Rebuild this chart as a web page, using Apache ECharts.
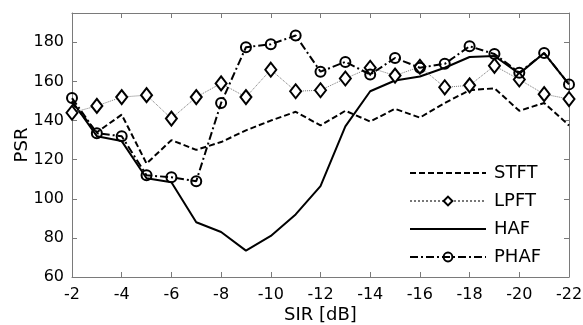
<!DOCTYPE html>
<html>
<head>
<meta charset="utf-8">
<script src="https://cdn.jsdelivr.net/npm/echarts@6/dist/echarts.min.js"></script>
<style>
  html, body { margin: 0; padding: 0; background: #fff; }
  #chart { width: 583px; height: 325px; }
</style>
</head>
<body>
<div id="chart"></div>
<script>
const sir = [-2, -3, -4, -5, -6, -7, -8, -9, -10, -11, -12, -13, -14, -15, -16, -17, -18, -19, -20, -21, -22];
const stft = [149, 134, 143, 118, 130, 125, 129, 135, 140, 144.5, 137.5, 145, 139.5, 146, 141.5, 149, 155.5, 156.5, 145, 149, 137.5];
const lpft = [144, 147.5, 152, 153, 141, 152, 159, 152, 166, 155, 155.5, 161.5, 167, 163, 167.5, 157, 158, 168, 161, 153.5, 151];
const haf = [150, 132, 129.5, 110.5, 108.5, 88, 83, 73.5, 81, 92, 106.5, 137, 155, 160.5, 162.5, 167, 172.5, 173, 164, 174.5, 158.5];
const phaf = [151.5, 133.5, 132, 112, 111, 109, 149, 177.5, 179, 183.5, 165, 170, 163.5, 172, 167, 169, 178, 174, 164.5, 174.5, 158.5];
const xTicks = [-2, -4, -6, -8, -10, -12, -14, -16, -18, -20, -22];
const yTicks = [60, 80, 100, 120, 140, 160, 180];

const FONT = "DejaVu Sans";
const FRAME = "#7a7a7a";

const pairs = (ys) => sir.map((x, i) => [x, ys[i]]);

const chart = echarts.init(document.getElementById("chart"), null, { renderer: "canvas" });

function frameAxis(extra) {
  return Object.assign({
    type: "value",
    axisLine: { show: true, onZero: false, lineStyle: { color: FRAME, width: 1 } },
    axisTick: { show: true, inside: true, length: 5, lineStyle: { color: FRAME } },
    splitLine: { show: false },
    axisLabel: { show: false }
  }, extra);
}

chart.setOption({
  animation: false,
  backgroundColor: "#fff",
  grid: { left: 72, right: 14, top: 13, bottom: 48, containLabel: false, outerBoundsMode: "none" },
  xAxis: [
    frameAxis({
      position: "bottom",
      min: -22, max: -2, interval: 2, inverse: true,
      name: "SIR [dB]", nameLocation: "middle", nameGap: 29, nameMoveOverlap: false,
      nameTextStyle: { fontFamily: FONT, fontSize: 18, color: "#000" },
      axisLabel: {
        show: true, margin: 10, fontFamily: FONT, fontSize: 16, color: "#000",
        formatter: (v) => (xTicks.includes(v) ? String(v) : "")
      }
    }),
    frameAxis({ position: "top", min: -22, max: -2, interval: 2, inverse: true })
  ],
  yAxis: [
    frameAxis({
      position: "left",
      min: 60, max: 195, interval: 20,
      name: "PSR", nameLocation: "middle", nameGap: 41, nameRotate: 90, nameMoveOverlap: false,
      nameTextStyle: { fontFamily: FONT, fontSize: 18, color: "#000" },
      axisLabel: {
        show: true, margin: 8, fontFamily: FONT, fontSize: 16, color: "#000",
        showMaxLabel: false,
        formatter: (v) => (yTicks.includes(v) ? String(v) : "")
      }
    }),
    frameAxis({ position: "right", min: 60, max: 195, interval: 20 })
  ],
  legend: {
    orient: "vertical",
    left: 409,
    top: 164,
    padding: 0,
    itemWidth: 76,
    itemHeight: 11,
    itemGap: 10,
    textStyle: { fontFamily: FONT, fontSize: 18, color: "#000", padding: [0, 0, 0, 3] },
    data: [
      { name: "STFT", itemStyle: { opacity: 0 } },
      { name: "LPFT" },
      { name: "HAF", itemStyle: { opacity: 0 } },
      { name: "PHAF" }
    ]
  },
  series: [
    {
      name: "STFT", type: "line", data: pairs(stft),
      symbol: "none",
      lineStyle: { color: "#000", width: 2, type: [6, 3] },
      itemStyle: { color: "#000" },
      z: 2
    },
    {
      name: "LPFT", type: "line", data: pairs(lpft),
      symbol: "diamond", symbolSize: [11, 14],
      lineStyle: { color: "#777", width: 1, type: "dotted" },
      itemStyle: { color: "#fff", borderColor: "#000", borderWidth: 2 },
      z: 3
    },
    {
      name: "HAF", type: "line", data: pairs(haf),
      symbol: "none",
      lineStyle: { color: "#000", width: 2, type: "solid" },
      itemStyle: { color: "#000" },
      z: 2
    },
    {
      name: "PHAF", type: "line", data: pairs(phaf),
      symbol: "circle", symbolSize: 10,
      lineStyle: { color: "#000", width: 2, type: [8, 3, 2, 3] },
      itemStyle: { color: "rgba(255,255,255,0)", borderColor: "#000", borderWidth: 2 },
      z: 4
    }
  ]
});
</script>
</body>
</html>
